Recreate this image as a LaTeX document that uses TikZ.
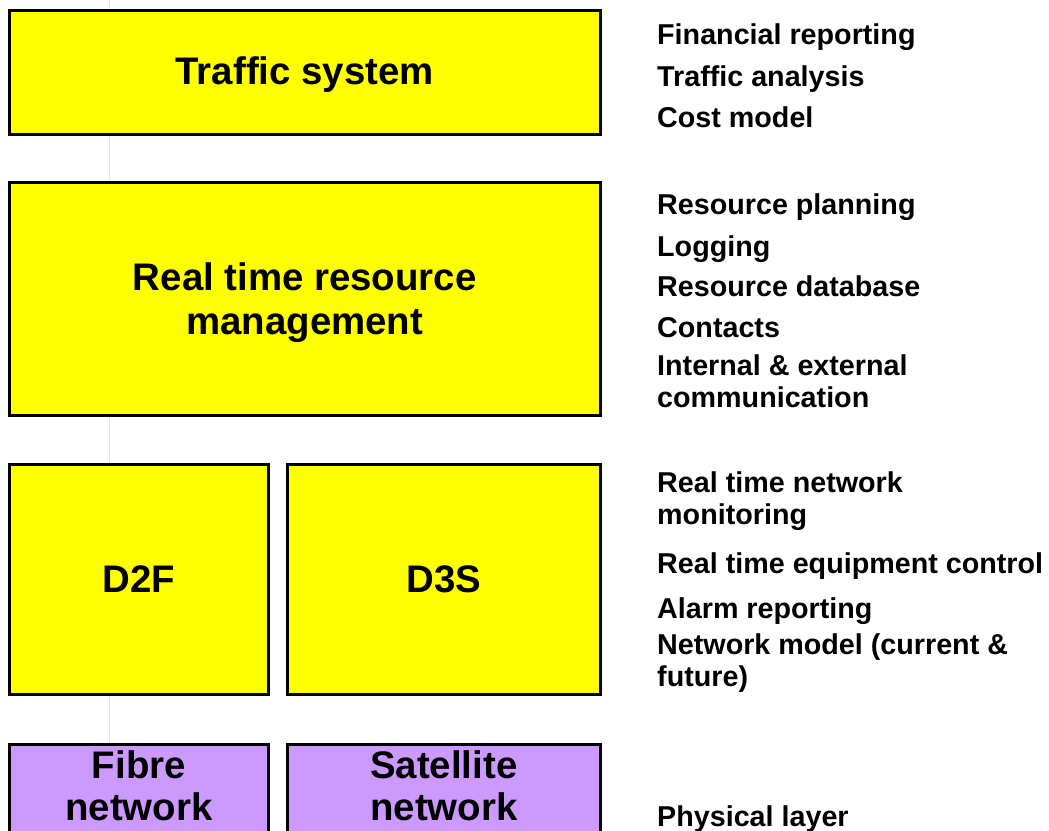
\documentclass[tikz,border=0pt]{standalone}
\usepackage{fontspec}
\setmainfont{Liberation Sans}
\usepackage{tikz}
\usetikzlibrary{positioning}
\definecolor{boxyellow}{HTML}{FFFF00}
\definecolor{boxpurple}{HTML}{CC99FF}
\definecolor{guide}{HTML}{E4E4E4}

\begin{document}
\begin{tikzpicture}[x=1pt, y=-1pt, box/.style = {draw=black, line width=3pt, inner sep=0pt, align=center, font=\fontsize{38.4}{44}\selectfont\bfseries}, layer/.style = {box, fill=boxyellow}, phys/.style = {box, fill=boxpurple, text depth=8pt, font=\fontsize{38.4}{42}\selectfont\bfseries}, item/.style = {anchor=base west, inner sep=0pt, align=left, font=\fontsize{28.7}{32}\selectfont\bfseries}]
	\clip (0,0) rectangle (1049,830);
	\coordinate (top) at (109.5,0);
	\coordinate (bot) at (109.5,744);
	\draw[guide, line width=1.5pt] (top) -- (bot);
	\node[layer, minimum width=590.5, minimum height=123.4, text depth=4pt] (traffic) at (304.75,72.5) {Traffic system};
	\node[layer, minimum width=590.5, minimum height=233, text depth=0pt] (rtrm) at (304.75,298.5) {Real time resource\\management};
	\node[layer, minimum width=258.8, minimum height=230.5] (d2f) at (138.9,579.5) {D2F};
	\node[layer, minimum width=312.3, minimum height=230.5] (d3s) at (443.85,579.5) {D3S};
	\node[phys, minimum width=258.3, minimum height=92] (fibre) at (138.85,790) {Fibre\\network};
	\node[phys, minimum width=312.3, minimum height=92] (sat) at (443.85,790) {Satellite\\network};
	% items, base = last line
	\node[item] (fin) at (657,44) {Financial reporting};
	\node[item] (ana) at (657,86) {Traffic analysis};
	\node[item] (cost) at (657,127) {Cost model};
	\node[item] (plan) at (657,214) {Resource planning};
	\node[item] (log) at (657,256) {Logging};
	\node[item] (db) at (657,296) {Resource database};
	\node[item] (cont) at (657,337) {Contacts};
	\node[item] (comm) at (657,407) {Internal \& external\\communication};
	\node[item] (mon) at (657,524) {Real time network\\monitoring};
	\node[item] (ctrl) at (657,573) {Real time equipment control};
	\node[item] (alarm) at (657,618) {Alarm reporting};
	\node[item] (model) at (657,686) {Network model (current \&\\future)};
	\node[item] (phl) at (657,826) {Physical layer};
\end{tikzpicture}
\end{document}
